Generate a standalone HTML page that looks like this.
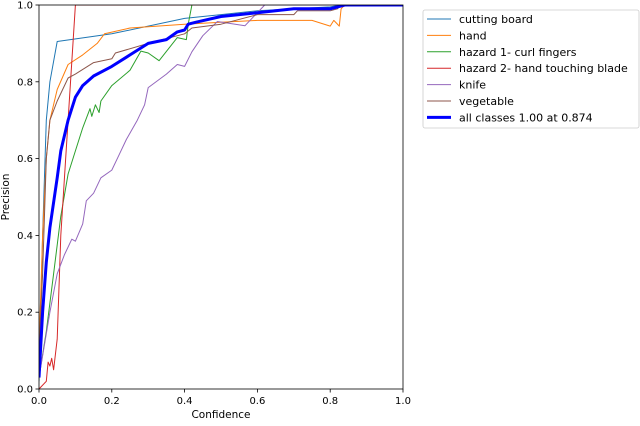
<!DOCTYPE html>
<html><head><meta charset="utf-8"><style>
body{margin:0;background:#fff;}
svg text{font-family:"DejaVu Sans","Liberation Sans",sans-serif;fill:#000;}
</style></head><body>
<svg id="chart" width="640" height="421" xmlns="http://www.w3.org/2000/svg"></svg>
<script>
const xTicks=[0,0.2,0.4,0.6,0.8,1.0];
const yTicks=[0,0.2,0.4,0.6,0.8,1.0];
const seriesNames=["cutting board","hand","hazard 1- curl fingers","hazard 2- hand touching blade","knife","vegetable","all classes 1.00 at 0.874"];
const cuttingBoard=[[0,0.02],[0.01,0.4],[0.02,0.7],[0.03,0.8],[0.05,0.905],[0.2,0.925],[0.4,0.965],[0.5,0.975],[0.6,0.985],[0.8,0.995],[0.83,1],[1,1]];
const hand=[[0,0.1],[0.01,0.4],[0.02,0.6],[0.03,0.7],[0.05,0.78],[0.08,0.845],[0.12,0.87],[0.16,0.9],[0.18,0.925],[0.25,0.94],[0.4,0.95],[0.5,0.955],[0.6,0.96],[0.75,0.96],[0.8,0.945],[0.81,0.96],[0.825,0.945],[0.83,0.99],[0.84,1],[1,1]];
const hazard1=[[0,0.03],[0.02,0.15],[0.04,0.3],[0.06,0.45],[0.08,0.56],[0.1,0.62],[0.12,0.68],[0.14,0.73],[0.145,0.71],[0.155,0.74],[0.165,0.72],[0.17,0.75],[0.2,0.79],[0.25,0.83],[0.28,0.88],[0.3,0.875],[0.33,0.855],[0.38,0.915],[0.405,0.91],[0.41,0.95],[0.42,1],[1,1]];
const hazard2=[[0,0],[0.02,0.02],[0.025,0.07],[0.03,0.06],[0.035,0.08],[0.04,0.05],[0.05,0.13],[0.06,0.4],[0.08,0.7],[0.1,1.0],[1,1]];
const knife=[[0,0.03],[0.03,0.2],[0.05,0.3],[0.07,0.35],[0.09,0.39],[0.1,0.385],[0.12,0.43],[0.13,0.49],[0.15,0.51],[0.17,0.55],[0.2,0.57],[0.22,0.61],[0.24,0.65],[0.27,0.7],[0.29,0.74],[0.3,0.785],[0.35,0.82],[0.38,0.845],[0.4,0.84],[0.42,0.878],[0.45,0.92],[0.49,0.957],[0.566,0.946],[0.62,1],[1,1]];
const vegetable=[[0,0.1],[0.01,0.3],[0.02,0.6],[0.03,0.7],[0.05,0.75],[0.07,0.79],[0.08,0.81],[0.1,0.82],[0.15,0.85],[0.2,0.86],[0.21,0.875],[0.3,0.9],[0.4,0.925],[0.42,0.94],[0.5,0.95],[0.6,0.975],[0.7,0.975],[0.71,0.985],[0.8,0.985],[0.82,0.99],[0.83,1],[1,1]];
const allClasses=[[0,0.03],[0.01,0.2],[0.02,0.33],[0.03,0.42],[0.05,0.55],[0.06,0.62],[0.08,0.7],[0.1,0.76],[0.12,0.79],[0.15,0.815],[0.2,0.84],[0.25,0.87],[0.3,0.9],[0.35,0.91],[0.38,0.93],[0.4,0.935],[0.41,0.95],[0.43,0.955],[0.5,0.97],[0.6,0.98],[0.7,0.99],[0.8,0.99],[0.82,0.995],[0.84,1],[1,1]];

const NS="http://www.w3.org/2000/svg";
const svg=document.getElementById('chart');
const X0=39,X1=403,Y0=389,Y1=5;
const sx=v=>X0+v*(X1-X0), sy=v=>Y0-v*(Y0-Y1);
function mk(tag,attrs,parent){const e=document.createElementNS(NS,tag);for(const k in attrs)e.setAttribute(k,attrs[k]);(parent||svg).appendChild(e);return e;}
const defs=mk('clipPath',{id:'clip'});mk('rect',{x:X0,y:Y1,width:X1-X0,height:Y0-Y1},defs);
const colors=["#1f77b4","#ff7f0e","#2ca02c","#d62728","#9467bd","#8c564b","#0000ff"];
const all=[cuttingBoard,hand,hazard1,hazard2,knife,vegetable,allClasses];
const names=["line-cutting-board","line-hand","line-hazard-1","line-hazard-2","line-knife","line-vegetable","line-all-classes"];
all.forEach((d,i)=>{
  const p=mk('polyline',{points:d.map(q=>sx(q[0]).toFixed(1)+','+sy(q[1]).toFixed(1)).join(' '),fill:'none',stroke:colors[i],'stroke-width':i==6?3:1,'clip-path':'url(#clip)','stroke-linejoin':'round'});
  
  
});
const frame=mk('rect',{x:X0,y:Y1,width:X1-X0,height:Y0-Y1,fill:'none',stroke:'#000','stroke-width':0.8});


xTicks.forEach(t=>{
  mk('line',{x1:sx(t),x2:sx(t),y1:Y0,y2:Y0+3.5,stroke:'#000','stroke-width':0.8});
  const tx=mk('text',{x:sx(t),y:Y0+15,'text-anchor':'middle','font-size':10});tx.textContent=t.toFixed(1);
  
  
});
yTicks.forEach(t=>{
  mk('line',{x1:X0-3.5,x2:X0,y1:sy(t),y2:sy(t),stroke:'#000','stroke-width':0.8});
  const tx=mk('text',{x:X0-6,y:sy(t)+3.5,'text-anchor':'end','font-size':10});tx.textContent=t.toFixed(1);
  
  
});
const xt=mk('text',{x:(X0+X1)/2,y:418,'text-anchor':'middle','font-size':10.5});xt.textContent='Confidence';


const yt=mk('text',{x:0,y:0,'text-anchor':'middle','font-size':10.5,transform:`translate(9,${(Y0+Y1)/2}) rotate(-90)`});yt.textContent='Precision';


const lg=mk('g',{});


mk('rect',{x:423,y:10,width:216,height:118,fill:'#fff',stroke:'#ccc','stroke-width':0.8,rx:2},lg);
seriesNames.forEach((n,i)=>{
  const y=19+i*16.4;
  const e=mk('g',{},lg);
  
  
  mk('line',{x1:427,x2:451,y1:y,y2:y,stroke:colors[i],'stroke-width':i==6?3:1},e);
  const t=mk('text',{x:459,y:y+4,'font-size':11},e);t.textContent=n;
});
</script>
</body></html>
